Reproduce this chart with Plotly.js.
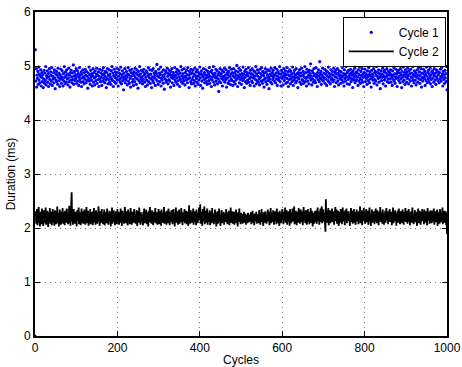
<!DOCTYPE html>
<html>
<head>
<meta charset="utf-8">
<script src="https://cdn.plot.ly/plotly-3.0.1.min.js"></script>
<style>html,body{margin:0;padding:0;background:#fff;}#chart{width:462px;height:367px;}</style>
</head>
<body>
<div id="chart"></div>
<script>
const seriesNames = ["Cycle 1", "Cycle 2"];
const xTickVals = [0, 200, 400, 600, 800, 1000];
const yTickVals = [0, 1, 2, 3, 4, 5, 6];

const cycle1 = [
0.00,
5.30,4.72,4.95,4.61,4.83,4.77,4.90,4.66,4.98,4.74,4.85,4.69,4.81,4.93,4.63,4.79,4.88,4.71,4.84,4.60,
4.76,4.92,4.68,4.87,4.73,4.99,4.65,4.82,4.78,4.91,4.70,4.86,4.62,4.80,4.95,4.75,4.67,4.89,4.83,4.72,
4.97,4.64,4.81,4.76,4.88,4.69,4.93,4.78,4.58,4.85,4.74,4.90,4.71,4.83,4.66,4.96,4.79,4.87,4.73,4.62,
4.84,4.77,4.94,4.68,4.80,4.91,4.75,4.63,4.86,4.72,4.99,4.79,4.67,4.89,4.82,4.70,4.93,4.76,4.85,4.65,
4.78,4.96,4.71,4.83,4.61,4.88,4.74,4.92,4.80,4.69,4.87,4.75,5.02,4.66,4.81,4.90,4.73,4.84,4.77,4.95,
4.68,4.82,4.91,4.72,4.86,4.64,4.79,4.97,4.75,4.83,4.70,4.89,4.62,4.85,4.78,4.93,4.71,4.80,4.67,4.88,
4.76,4.94,4.83,4.69,4.90,4.73,4.81,4.59,4.87,4.77,4.98,4.72,4.84,4.66,4.92,4.79,4.74,4.86,4.63,4.82,
4.95,4.70,4.88,4.78,4.65,4.91,4.80,4.73,4.85,4.96,4.68,4.83,4.75,4.89,4.62,4.81,4.94,4.76,4.71,4.87,
4.79,4.64,4.92,4.84,4.72,4.97,4.77,4.86,4.69,4.81,4.90,4.74,4.60,4.88,4.78,4.95,4.67,4.83,4.75,4.93,
4.70,4.85,4.80,4.66,4.91,4.76,4.99,4.73,4.87,4.62,4.82,4.94,4.71,4.79,4.89,4.68,4.84,4.77,4.96,4.74,
4.88,4.63,4.81,4.93,4.75,4.86,4.70,4.98,4.78,4.67,4.84,4.91,4.73,4.80,4.56,4.87,4.76,4.95,4.69,4.82,
4.74,4.90,4.79,4.65,4.85,4.97,4.72,4.83,4.68,4.92,4.77,4.61,4.88,4.81,4.94,4.70,4.86,4.75,4.64,4.89,
4.82,4.71,4.96,4.78,4.87,4.66,4.93,4.76,4.84,4.59,4.90,4.73,4.81,4.99,4.69,4.85,4.77,4.92,4.72,4.80,
4.67,4.89,4.75,4.94,4.83,4.70,4.86,4.62,4.79,4.91,4.74,4.88,4.65,4.82,4.97,4.71,4.84,4.78,4.93,4.68,
4.85,4.76,4.60,4.92,4.80,4.73,4.95,4.69,4.87,4.78,4.83,4.64,4.90,4.75,4.86,5.03,4.72,4.81,4.66,4.94,
4.79,4.87,4.71,4.84,4.98,4.63,4.77,4.89,4.74,4.82,4.68,4.93,4.80,4.57,4.85,4.76,4.91,4.70,4.88,4.73,
4.96,4.81,4.67,4.86,4.75,4.92,4.72,4.84,4.61,4.90,4.79,4.95,4.69,4.83,4.77,4.88,4.64,4.80,4.97,4.74,
4.83,4.70,4.89,4.78,4.94,4.66,4.85,4.73,4.91,4.80,4.62,4.87,4.76,4.99,4.71,4.82,4.93,4.68,4.86,4.77,
4.72,4.95,4.81,4.65,4.88,4.79,4.74,4.92,4.84,4.69,4.97,4.76,4.83,4.60,4.90,4.78,4.85,4.71,4.94,4.67,
4.87,4.75,4.92,4.80,4.68,4.85,4.73,4.96,4.63,4.82,4.89,4.77,4.70,4.93,4.81,4.66,4.88,4.74,4.84,4.98,
4.78,4.64,4.86,4.91,4.72,4.83,4.59,4.80,4.95,4.75,4.88,4.69,4.84,4.77,4.93,4.71,4.82,4.66,4.90,4.79,
4.85,4.73,4.97,4.68,4.81,4.89,4.76,4.62,4.92,4.74,4.86,4.80,4.99,4.70,4.83,4.65,4.87,4.78,4.94,4.72,
4.80,4.91,4.67,4.84,4.76,4.53,4.88,4.71,4.95,4.82,4.69,4.86,4.77,4.92,4.63,4.81,4.74,4.89,4.79,4.96,
4.70,4.83,4.75,4.93,4.61,4.87,4.78,4.84,4.68,4.90,4.72,4.97,4.81,4.66,4.85,4.76,4.94,4.73,4.88,4.64,
4.82,4.95,4.71,4.79,4.87,4.67,4.91,4.74,4.83,5.01,4.77,4.62,4.89,4.80,4.96,4.69,4.84,4.75,4.92,4.78,
4.66,4.86,4.81,4.73,4.98,4.76,4.85,4.60,4.90,4.79,4.71,4.94,4.83,4.68,4.88,4.74,4.82,4.97,4.70,4.87,
4.77,4.64,4.92,4.80,4.86,4.72,4.95,4.69,4.84,4.78,4.91,4.63,4.81,4.89,4.75,4.99,4.67,4.85,4.73,4.93,
4.81,4.70,4.88,4.76,4.65,4.94,4.79,4.86,4.72,4.97,4.83,4.68,4.90,4.74,4.82,4.61,4.87,4.77,4.95,4.71,
4.89,4.78,4.66,4.84,4.93,4.73,4.80,4.58,4.91,4.76,4.85,4.70,4.96,4.82,4.67,4.88,4.75,4.92,4.79,4.84,
4.72,4.97,4.83,4.69,4.87,4.76,4.94,4.64,4.81,4.90,4.74,4.86,4.78,4.99,4.71,4.85,4.63,4.92,4.80,4.77,
4.88,4.65,4.82,4.95,4.73,4.86,4.79,4.91,4.68,4.84,4.77,4.97,4.70,4.89,4.62,4.83,4.75,4.93,4.81,4.67,
4.90,4.76,4.85,4.71,4.98,4.80,4.64,4.87,4.74,4.92,4.78,4.83,4.69,4.95,4.72,4.86,4.79,4.60,4.88,4.76,
4.84,4.93,4.70,4.81,4.87,4.66,4.96,4.75,4.82,4.73,4.90,4.68,4.85,4.79,4.99,4.71,4.88,4.77,4.63,4.94,
4.80,4.72,4.89,4.83,4.67,4.92,4.78,4.86,5.04,4.74,4.81,4.65,4.91,4.76,4.87,4.70,4.95,4.82,4.73,4.85,
4.69,4.97,4.79,4.84,4.62,4.88,4.75,4.93,4.81,4.71,5.08,4.86,4.77,4.90,4.66,4.83,4.74,4.96,4.80,4.72,
4.87,4.78,4.94,4.68,4.85,4.76,4.91,4.64,4.82,4.89,4.73,4.98,4.79,4.70,4.86,4.81,4.67,4.93,4.75,4.84,
4.77,4.90,4.71,4.83,4.96,4.74,4.62,4.88,4.80,4.92,4.69,4.85,4.78,4.95,4.72,4.87,4.65,4.82,4.91,4.76,
4.83,4.68,4.89,4.79,4.74,4.97,4.81,4.70,4.86,4.63,4.93,4.77,4.84,4.72,4.99,4.80,4.87,4.67,4.90,4.75,
4.92,4.81,4.66,4.85,4.78,4.94,4.71,4.88,4.76,4.83,4.60,4.91,4.74,4.86,4.79,4.96,4.69,4.82,4.73,4.89,
4.75,4.87,4.80,4.64,4.93,4.72,4.84,4.98,4.77,4.68,4.90,4.82,4.74,4.95,4.70,4.85,4.79,4.62,4.88,4.81,
4.94,4.71,4.86,4.77,4.83,4.66,4.91,4.80,4.73,4.97,4.84,4.69,4.89,4.76,4.82,4.61,4.92,4.78,4.85,4.74,
4.80,4.95,4.68,4.87,4.75,4.90,4.72,4.83,4.99,4.65,4.81,4.88,4.77,4.93,4.70,4.86,4.79,4.58,4.84,4.91,
4.73,4.85,4.79,4.96,4.67,4.82,4.89,4.74,4.92,4.78,4.63,4.87,4.81,4.95,4.71,4.84,4.76,4.90,4.69,4.83,
4.88,4.76,4.93,4.70,4.84,4.79,4.64,4.91,4.82,4.75,4.97,4.72,4.86,4.68,4.80,4.94,4.77,4.85,4.62,4.89,
4.78,4.92,4.73,4.81,4.87,4.69,4.95,4.76,4.84,4.60,4.90,4.79,4.71,4.98,4.83,4.74,4.88,4.66,4.93,4.80,
4.85,4.70,4.89,4.77,4.96,4.82,4.67,4.91,4.75,4.86,4.72,4.94,4.80,4.63,4.87,4.78,4.99,4.73,4.84,4.69,
4.91,4.81,4.74,4.88,4.65,4.85,4.79,4.93,4.70,4.83,4.97,4.76,4.89,4.68,4.82,4.75,4.95,4.61,4.87,4.78,
4.72,4.86,4.94,4.80,4.77,4.90,4.64,4.84,4.73,4.98,4.81,4.69,4.88,4.76,4.92,4.71,4.85,4.79,4.96,4.67,
4.83,4.75,4.89,4.62,4.91,4.78,4.86,4.70,4.95,4.82,4.74,4.87,4.66,4.93,4.80,4.77,4.90,4.73,4.84,5.02,
4.69,4.88,4.76,4.94,4.81,4.72,4.97,4.79,4.85,4.63,4.90,4.75,4.83,4.68,4.92,4.78,4.86,4.71,4.99,4.56
];

const cycle2 = [
2.22,2.31,2.08,2.18,2.35,2.05,2.27,2.14,2.39,2.10,2.24,2.03,2.30,2.16,2.21,2.07,2.36,2.12,2.28,2.04,
2.19,2.33,2.09,2.25,2.15,2.38,2.06,2.23,2.11,2.32,2.17,2.02,2.29,2.20,2.13,2.37,2.08,2.26,2.14,2.30,
2.05,2.22,2.35,2.10,2.18,2.28,2.04,2.33,2.16,2.24,2.07,2.31,2.12,2.40,2.09,2.21,2.27,2.03,2.19,2.34,
2.11,2.26,2.06,2.30,2.15,2.23,2.37,2.08,2.20,2.13,2.29,2.05,2.32,2.17,2.25,2.10,2.36,2.14,2.22,2.07,
2.28,2.18,2.41,2.09,2.24,2.04,2.31,2.16,2.66,2.12,2.27,2.06,2.20,2.35,2.11,2.23,2.08,2.30,2.15,2.26,
2.03,2.21,2.33,2.13,2.19,2.38,2.07,2.25,2.14,2.29,2.05,2.22,2.36,2.10,2.17,2.31,2.08,2.24,2.12,2.34,
2.16,2.06,2.27,2.20,2.39,2.09,2.23,2.15,2.32,2.04,2.26,2.18,2.11,2.35,2.07,2.21,2.28,2.13,2.30,2.05,
2.24,2.14,2.37,2.10,2.19,2.27,2.06,2.33,2.17,2.22,2.08,2.29,2.12,2.40,2.15,2.25,2.04,2.31,2.18,2.09,
2.26,2.35,2.11,2.20,2.07,2.28,2.16,2.34,2.05,2.23,2.13,2.30,2.19,2.09,2.36,2.14,2.21,2.06,2.27,2.17,
2.32,2.10,2.24,2.03,2.29,2.18,2.38,2.08,2.22,2.15,2.33,2.11,2.26,2.05,2.20,2.31,2.12,2.25,2.07,2.35,
2.13,2.21,2.30,2.06,2.18,2.27,2.10,2.36,2.15,2.23,2.04,2.32,2.19,2.12,2.28,2.08,2.24,2.39,2.14,2.20,
2.09,2.31,2.17,2.25,2.05,2.34,2.11,2.22,2.29,2.07,2.19,2.37,2.13,2.26,2.06,2.30,2.16,2.23,2.10,2.28,
2.35,2.12,2.20,2.08,2.27,2.15,2.33,2.04,2.24,2.18,2.31,2.10,2.38,2.14,2.21,2.06,2.29,2.17,2.25,2.11,
2.22,2.05,2.30,2.16,2.36,2.09,2.26,2.13,2.19,2.34,2.07,2.23,2.15,2.28,2.03,2.32,2.12,2.20,2.39,2.10,
2.18,2.27,2.08,2.33,2.14,2.21,2.05,2.30,2.17,2.25,2.11,2.37,2.09,2.24,2.16,2.29,2.06,2.22,2.13,2.35,
2.07,2.20,2.31,2.12,2.26,2.04,2.34,2.18,2.23,2.10,2.28,2.15,2.39,2.08,2.21,2.30,2.13,2.25,2.06,2.32,
2.17,2.24,2.09,2.36,2.14,2.22,2.05,2.29,2.19,2.11,2.33,2.16,2.27,2.07,2.20,2.35,2.12,2.26,2.03,2.30,
2.15,2.38,2.10,2.23,2.18,2.31,2.06,2.25,2.13,2.34,2.08,2.21,2.28,2.11,2.37,2.16,2.22,2.05,2.29,2.19,
2.12,2.26,2.35,2.09,2.20,2.14,2.32,2.07,2.24,2.17,2.30,2.04,2.27,2.42,2.13,2.22,2.08,2.33,2.16,2.25,
2.10,2.29,2.18,2.36,2.06,2.23,2.15,2.31,2.11,2.26,2.05,2.34,2.19,2.21,2.09,2.28,2.14,2.38,2.17,2.24,
2.44,2.08,2.30,2.15,2.22,2.04,2.35,2.12,2.27,2.19,2.40,2.07,2.25,2.14,2.32,2.10,2.21,2.36,2.06,2.28,
2.16,2.23,2.11,2.33,2.05,2.26,2.18,2.30,2.09,2.37,2.13,2.20,2.27,2.07,2.24,2.15,2.34,2.10,2.29,2.03,
2.21,2.14,2.31,2.08,2.25,2.17,2.36,2.12,2.22,2.04,2.28,2.19,2.33,2.09,2.26,2.13,2.20,2.30,2.06,2.24,
2.18,2.27,2.11,2.35,2.15,2.23,2.07,2.29,2.14,2.21,2.32,2.05,2.26,2.17,2.38,2.10,2.24,2.12,2.31,2.08,
2.22,2.16,2.30,2.06,2.27,2.13,2.20,2.34,2.09,2.25,2.18,2.03,2.29,2.15,2.23,2.36,2.11,2.21,2.07,2.28,
2.19,2.12,2.26,2.08,2.23,2.15,2.30,2.10,2.21,2.17,2.27,2.06,2.24,2.14,2.20,2.09,2.28,2.16,2.22,2.11,
2.25,2.13,2.18,2.29,2.07,2.22,2.15,2.32,2.10,2.24,2.19,2.05,2.27,2.16,2.21,2.12,2.30,2.08,2.23,2.17,
2.14,2.26,2.09,2.33,2.18,2.21,2.06,2.28,2.13,2.35,2.11,2.24,2.16,2.04,2.29,2.19,2.22,2.10,2.31,2.15,
2.27,2.08,2.23,2.17,2.34,2.12,2.20,2.30,2.05,2.25,2.14,2.37,2.09,2.22,2.18,2.28,2.11,2.33,2.16,2.06,
2.24,2.19,2.31,2.13,2.21,2.07,2.36,2.15,2.26,2.10,2.29,2.17,2.04,2.32,2.14,2.23,2.09,2.27,2.18,2.35,
2.12,2.25,2.07,2.30,2.16,2.22,2.38,2.10,2.28,2.14,2.33,2.06,2.24,2.19,2.31,2.11,2.26,2.04,2.35,2.17,
2.21,2.09,2.29,2.15,2.36,2.12,2.23,2.18,2.40,2.07,2.27,2.13,2.32,2.20,2.05,2.30,2.16,2.25,2.10,2.37,
2.14,2.28,2.08,2.22,2.34,2.11,2.26,2.17,2.31,2.05,2.24,2.39,2.13,2.20,2.29,2.09,2.33,2.15,2.27,2.06,
2.23,2.35,2.12,2.18,2.30,2.07,2.26,2.14,2.37,2.10,2.21,2.32,2.16,2.03,2.28,2.19,2.25,2.08,2.31,2.11,
2.27,2.16,2.33,2.08,2.24,2.38,2.13,2.20,2.31,2.06,2.29,2.15,2.36,2.11,2.22,2.40,2.09,2.26,2.18,2.34,
2.12,2.28,2.21,2.07,1.93,2.53,2.15,2.32,2.10,2.25,2.19,2.37,2.05,2.27,2.14,2.33,2.09,2.23,2.30,2.17,
2.36,2.11,2.24,2.18,2.31,2.06,2.28,2.15,2.39,2.13,2.21,2.34,2.08,2.26,2.19,2.32,2.04,2.25,2.16,2.29,
2.10,2.35,2.20,2.27,2.07,2.23,2.38,2.12,2.30,2.17,2.25,2.05,2.33,2.14,2.22,2.36,2.09,2.28,2.16,2.24,
2.31,2.13,2.26,2.04,2.29,2.19,2.37,2.11,2.23,2.32,2.08,2.27,2.15,2.35,2.10,2.21,2.30,2.06,2.25,2.18,
2.34,2.12,2.22,2.28,2.07,2.31,2.16,2.24,2.40,2.09,2.26,2.14,2.33,2.05,2.20,2.29,2.13,2.37,2.17,2.23,
2.08,2.30,2.19,2.35,2.11,2.25,2.15,2.32,2.06,2.27,2.21,2.38,2.13,2.24,2.04,2.29,2.17,2.34,2.10,2.26,
2.20,2.14,2.31,2.07,2.28,2.18,2.36,2.12,2.23,2.09,2.33,2.16,2.26,2.05,2.30,2.19,2.22,2.39,2.11,2.25,
2.15,2.29,2.08,2.34,2.17,2.21,2.06,2.27,2.13,2.32,2.10,2.24,2.37,2.14,2.20,2.28,2.07,2.31,2.16,2.23,
2.35,2.11,2.26,2.18,2.30,2.05,2.24,2.14,2.38,2.09,2.22,2.29,2.12,2.33,2.17,2.25,2.04,2.27,2.19,2.32,
2.10,2.23,2.36,2.13,2.28,2.07,2.21,2.31,2.15,2.26,2.09,2.34,2.18,2.22,2.06,2.30,2.14,2.25,2.37,2.11,
2.27,2.16,2.32,2.08,2.24,2.19,2.35,2.12,2.29,2.05,2.22,2.17,2.31,2.10,2.26,2.38,2.13,2.21,2.07,2.28,
2.18,2.33,2.11,2.25,2.15,2.30,2.04,2.27,2.20,2.36,2.09,2.23,2.14,2.32,2.17,2.06,2.29,2.12,2.24,2.35,
2.13,2.21,2.28,2.07,2.34,2.16,2.26,2.10,2.31,2.19,2.23,2.05,2.37,2.14,2.27,2.18,2.30,2.08,2.22,2.33,
2.16,2.25,2.09,2.32,2.12,2.29,2.20,2.36,2.06,2.24,2.15,2.31,2.11,2.27,2.18,2.34,2.04,2.26,2.13,2.30,
2.21,2.08,2.35,2.17,2.23,2.11,2.29,2.14,2.38,2.07,2.26,2.19,2.32,2.10,2.24,2.16,2.31,2.05,2.28,1.89
];

const cycles1 = cycle1.map((_, i) => i);
const cycles2 = cycle2.map((_, i) => i + 1);

const font = "Liberation Sans, Arial, Helvetica, sans-serif";

const traces = [
  {
    x: cycles1, y: cycle1, name: seriesNames[0], type: "scatter", mode: "markers",
    marker: {color: "#0000ff", size: 3.2, line: {width: 0}}
  },
  {
    x: cycles2, y: cycle2, name: seriesNames[1], type: "scatter", mode: "lines",
    line: {color: "#000000", width: 1.8}
  }
];

const axisCommon = {
  showline: true, linecolor: "#000", linewidth: 2, mirror: "ticks",
  ticks: "inside", ticklen: 5, tickwidth: 1, tickcolor: "#000",
  showgrid: true, gridcolor: "#7a7a7a", gridwidth: 1, griddash: "1px,4px",
  zeroline: false, tickfont: {family: font, size: 12, color: "#000"}
};

const layout = {
  width: 462, height: 367,
  margin: {l: 35, r: 15, t: 12, b: 31},
  paper_bgcolor: "#fff", plot_bgcolor: "#fff",
  font: {family: font, size: 12, color: "#000"},
  showlegend: true,
  legend: {
    x: 0.997, xanchor: "right", y: 0.985, yanchor: "top",
    bgcolor: "#fff", bordercolor: "#000", borderwidth: 1,
    itemwidth: 45,
    font: {family: font, size: 12, color: "#000"},
    tracegroupgap: 0
  },
  xaxis: Object.assign({}, axisCommon, {
    range: [0, 1000], tickvals: xTickVals, ticktext: xTickVals.map(String),
    title: {text: "Cycles", standoff: 2, font: {family: font, size: 12, color: "#000"}}
  }),
  yaxis: Object.assign({}, axisCommon, {
    range: [0, 6], tickvals: yTickVals, ticktext: yTickVals.map(String),
    title: {text: "Duration (ms)", standoff: 6, font: {family: font, size: 12, color: "#000"}}
  })
};

Plotly.newPlot("chart", traces, layout, {displayModeBar: false, staticPlot: true});
</script>
</body>
</html>
